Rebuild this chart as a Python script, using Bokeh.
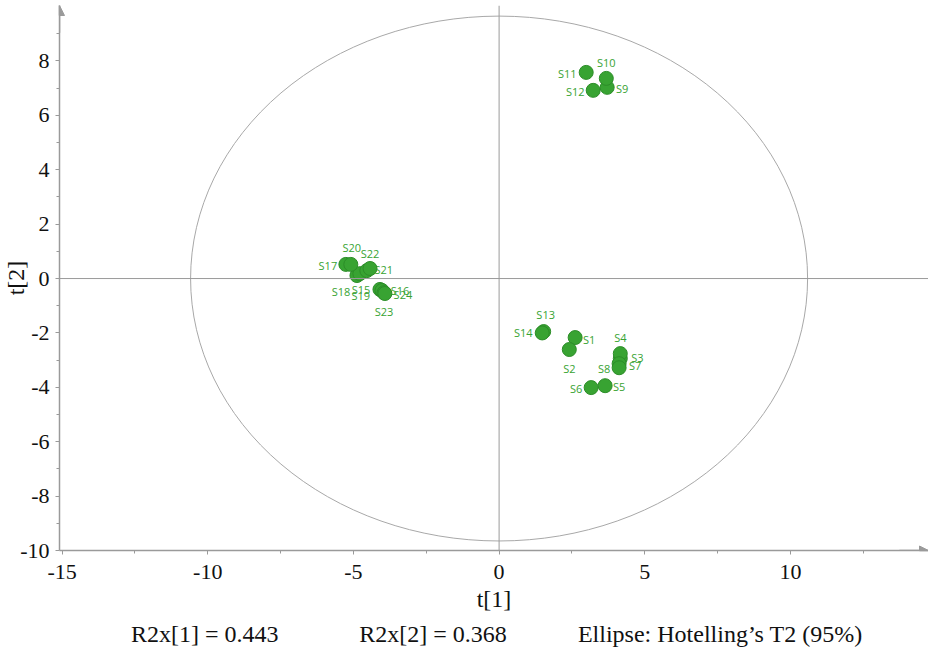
from bokeh.plotting import figure
from bokeh.layouts import column
from bokeh.models import (ColumnDataSource, Range1d, Arrow, NormalHead,
                          Span, FixedTicker)
from bokeh.core.properties import value
from bokeh.embed import file_html
from bokeh.resources import INLINE

# PCA score plot: sample names and scores on the first two components
names = ["S1", "S2", "S3", "S4", "S5", "S6", "S7", "S8",
         "S9", "S10", "S11", "S12",
         "S13", "S14",
         "S15", "S16", "S17", "S18", "S19", "S20", "S21", "S22", "S23", "S24"]
t1 = [2.61, 2.41, 4.16, 4.16, 3.64, 3.16, 4.12, 4.12,
      3.71, 3.68, 2.99, 3.23,
      1.53, 1.48,
      -4.09, -4.02, -5.26, -4.88, -4.78, -5.09, -4.54, -4.43, -3.95, -3.92]
t2 = [-2.17, -2.61, -2.94, -2.76, -3.94, -4.01, -3.13, -3.28,
      7.03, 7.36, 7.58, 6.92,
      -1.95, -2.00,
      -0.40, -0.44, 0.52, 0.11, 0.18, 0.52, 0.29, 0.37, -0.52, -0.55]

# Hotelling's T2 (95%) ellipse semi-axes
ellipse_a = 10.59
ellipse_b = 9.65

# Explained variance
r2x = [0.443, 0.368]

x_ticks = [-15, -10, -5, 0, 5, 10]
y_ticks = [-10, -8, -6, -4, -2, 0, 2, 4, 6, 8]

# Label placement around each marker (pixels)
label_dx = [14, 0, 17, 0, 14, -15, 16, -15,
            15, 0, -19, -18,
            2, -19,
            -19, 18, -18, -16, 1, 1, 17, 0, 0, 18]
label_dy = [2, 19, -1, -16, 1, 1, 2, 1,
            1, -16, 1, 1,
            -17, 0,
            0, 0, 1, 16, 22, -17, -1, -15, 19, 1]

GREEN = "#38a332"
GREY = "#9a9a9a"
SERIF = "Liberation Serif"
X_END = 14.74
Y_END = 10.04

src = ColumnDataSource(dict(name=names, t1=t1, t2=t2, dx=label_dx, dy=label_dy))

p = figure(width=928, height=620, output_backend="svg", toolbar_location=None,
           x_range=Range1d(-15.09, X_END), y_range=Range1d(-10, Y_END),
           min_border_left=0, min_border_right=0, min_border_top=5,
           min_border_bottom=70)
p.outline_line_color = None
p.grid.visible = False
p.background_fill_color = "white"
p.border_fill_color = "white"

# Axes
for ax in (p.xaxis[0], p.yaxis[0]):
    ax.axis_line_color = GREY
    ax.axis_line_width = 1.5
    ax.major_tick_line_color = GREY
    ax.minor_tick_line_color = GREY
    ax.major_tick_out = 4
    ax.major_tick_in = 0
    ax.minor_tick_out = 3
    ax.minor_tick_in = 0
    ax.major_label_text_font = SERIF
    ax.major_label_text_font_size = "22px"
    ax.major_label_text_color = "#111111"
    ax.axis_label_text_font = SERIF
    ax.axis_label_text_font_size = "24px"
    ax.axis_label_text_font_style = "normal"
    ax.axis_label_text_color = "#111111"

p.xaxis.ticker = FixedTicker(ticks=x_ticks,
                             minor_ticks=[v + 2.5 for v in x_ticks])
p.yaxis.ticker = FixedTicker(ticks=y_ticks,
                             minor_ticks=[v + 1 for v in y_ticks])
# plain hyphen-minus for negative tick labels
p.xaxis.major_label_overrides = {v: str(v) for v in x_ticks}
p.yaxis.major_label_overrides = {v: str(v) for v in y_ticks}
p.xaxis.axis_label = "t[1]"
p.yaxis.axis_label = "t[2]"
p.xaxis.major_label_standoff = 10
p.xaxis.axis_label_standoff = 4
p.yaxis.major_label_standoff = 6
p.yaxis.axis_label_standoff = -12

# Arrow heads on the axes
x_left = p.x_range.start
p.add_layout(Arrow(end=NormalHead(size=10, fill_color=GREY, line_color=GREY),
                   line_color=GREY, line_width=1.5,
                   x_start=x_left, y_start=Y_END - 1, x_end=x_left, y_end=Y_END))
p.add_layout(Arrow(end=NormalHead(size=9, fill_color=GREY, line_color=GREY),
                   line_color=GREY, line_width=1.5,
                   x_start=X_END - 1, y_start=-10, x_end=X_END, y_end=-10))

# Origin cross-hair
p.add_layout(Span(location=0, dimension="width", line_color=GREY, line_width=1))
p.add_layout(Span(location=0, dimension="height", line_color=GREY, line_width=1))

# Hotelling's T2 ellipse
p.ellipse(x=0, y=0, width=2 * ellipse_a, height=2 * ellipse_b,
          fill_color=None, line_color="#a8a8a8", line_width=1)

# Sample labels, then markers on top
p.text(x="t1", y="t2", text="name", source=src, x_offset="dx", y_offset="dy",
       text_align="center", text_baseline="middle",
       text_font=value("Open Sans"), text_font_size="11px", text_color=GREEN)
p.scatter(x="t1", y="t2", source=src, size=14, marker="circle",
          fill_color=GREEN, line_color="#2c8d28", line_width=1)

# Footer strip: explained variance and ellipse note (x in page pixels)
foot = figure(width=928, height=30, output_backend="svg", toolbar_location=None,
              x_range=Range1d(60, 928), y_range=Range1d(0, 30),
              min_border=0, x_axis_type=None, y_axis_type=None)
foot.outline_line_color = None
foot.grid.visible = False
foot_src = ColumnDataSource(dict(
    x=[205, 433, 720], y=[17, 17, 17],
    text=[f"R2x[1] = {r2x[0]:.3f}", f"R2x[2] = {r2x[1]:.3f}",
          "Ellipse: Hotelling\u2019s T2 (95%)"]))
foot.text(x="x", y="y", text="text", source=foot_src,
          text_align="center", text_baseline="middle",
          text_font=value(SERIF), text_font_size="24px", text_color="#111111")

open("out.html", "w").write(file_html(column(p, foot, spacing=0), INLINE))
